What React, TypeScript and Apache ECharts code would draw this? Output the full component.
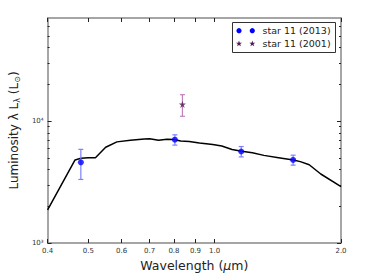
import React, { useEffect, useRef } from "react";
import * as echarts from "echarts";

// Model spectrum (wavelength in µm, luminosity in L_sun)
const modelWavelength = [0.40, 0.465, 0.48, 0.50, 0.52, 0.55, 0.585, 0.63, 0.68, 0.70, 0.735, 0.77, 0.80, 0.83, 0.87, 0.92, 0.99, 1.04, 1.10, 1.16, 1.23, 1.31, 1.42, 1.54, 1.60, 1.68, 1.79, 2.0];
const modelLum = [1870, 4800, 4950, 5000, 5010, 6100, 6750, 6950, 7120, 7150, 6950, 7080, 7050, 6850, 6800, 6620, 6420, 6250, 5850, 5650, 5500, 5230, 5010, 4800, 4650, 4380, 3680, 2900];

// star 11 (2013)
const obs2013Wave = [0.48, 0.804, 1.157, 1.538];
const obs2013Lum = [4590, 7030, 5630, 4800];
const obs2013Err = [1270, 680, 550, 450];

// star 11 (2001)
const obs2001Wave = [0.838];
const obs2001Lum = [13700];
const obs2001Err = [2750];

// axis ticks
const xTickValues = [0.4, 0.5, 0.6, 0.7, 0.8, 0.9, 1.0, 2.0];
const yMajorTicks = [1000, 10000];
const yMinorTicks = [2000, 3000, 4000, 5000, 6000, 7000, 8000, 9000, 20000, 30000, 40000, 50000, 60000];
const xRange = [0.4, 2.0];
const yRange = [1000, 70000];

const L = Math.log10;
const FONT = "DejaVu Sans";
const STAR = "path://M0,-10 L2.35,-3.24 L9.51,-3.09 L3.8,1.24 L5.88,8.09 L0,4 L-5.88,8.09 L-3.8,1.24 L-9.51,-3.09 L-2.35,-3.24 Z";

function starPoints(cx: number, cy: number, r: number) {
  const pts: number[][] = [];
  for (let i = 0; i < 10; i++) {
    const rr = i % 2 === 0 ? r : r * 0.4;
    const a = -Math.PI / 2 + (i * Math.PI) / 5;
    pts.push([cx + rr * Math.cos(a), cy + rr * Math.sin(a)]);
  }
  return pts;
}

function errorSeries(wave: number[], lum: number[], err: number[], color: string) {
  return {
    type: "custom",
    xAxisIndex: 0,
    yAxisIndex: 0,
    z: 3,
    data: wave.map((w, i) => [L(w), L(lum[i]), L(lum[i] + err[i]), L(lum[i] - err[i])]),
    renderItem: (params: any, api: any) => {
      const x = api.value(0);
      const top = api.coord([x, api.value(2)]);
      const bot = api.coord([x, api.value(3)]);
      const cap = 2.5;
      const st = { stroke: color, lineWidth: 1.2 };
      return {
        type: "group",
        children: [
          { type: "line", shape: { x1: top[0], y1: top[1], x2: bot[0], y2: bot[1] }, style: st },
          { type: "line", shape: { x1: top[0] - cap, y1: top[1], x2: top[0] + cap, y2: top[1] }, style: st },
          { type: "line", shape: { x1: bot[0] - cap, y1: bot[1], x2: bot[0] + cap, y2: bot[1] }, style: st },
        ],
      };
    },
  };
}

export default function App() {
  const ref = useRef<HTMLDivElement>(null);
  useEffect(() => {
    if (!ref.current) return;
    const chart = echarts.init(ref.current, null, { renderer: "svg" });
    const spine = { show: true, onZero: false, lineStyle: { color: "#888", width: 1.5 } };
    const noSpine = { show: false, onZero: false };
    const tickLab = { fontFamily: FONT, fontSize: 7, color: "#333" };
    const yMin = L(yRange[0]);
    const yMax = L(yRange[1]);
    const xMin = L(xRange[0]);
    const xMax = L(xRange[1]);
    const sup = (v: number) => {
      const e = Math.round(v);
      return "10" + (e === 3 ? "\u00B3" : e === 4 ? "\u2074" : String(e));
    };
    const baseY = { type: "value", min: yMin, max: yMax, splitLine: { show: false } };
    const baseX = { type: "value", min: xMin, max: xMax, splitLine: { show: false } };
    chart.setOption({
      animation: false,
      grid: { left: 42, right: 38, top: 18, bottom: 30 },
      xAxis: [
        {
          ...baseX,
          position: "bottom",
          axisLine: spine,
          axisTick: { show: true, inside: true, length: 4, customValues: xTickValues.map(L), lineStyle: { color: "#222" } },
          axisLabel: {
            ...tickLab,
            margin: 4,
            customValues: xTickValues.map(L),
            formatter: (v: number) => Math.pow(10, v).toFixed(1),
          },
          name: "Wavelength ({it|μ}m)",
          nameLocation: "middle",
          nameGap: 16,
          nameTextStyle: {
            fontFamily: FONT,
            fontSize: 12.5,
            color: "#222",
            rich: { it: { fontFamily: FONT, fontSize: 12.5, fontStyle: "italic", color: "#222" } },
          },
        },
        {
          ...baseX,
          position: "top",
          axisLine: spine,
          axisTick: { show: true, inside: true, length: 4, customValues: xTickValues.map(L), lineStyle: { color: "#222" } },
          axisLabel: { show: false },
        },
      ],
      yAxis: [
        {
          ...baseY,
          position: "left",
          axisLine: spine,
          axisTick: { show: true, inside: true, length: 4, customValues: yMajorTicks.map(L), lineStyle: { color: "#222" } },
          axisLabel: { ...tickLab, margin: 4, customValues: yMajorTicks.map(L), formatter: sup },
          name: "Luminosity λ L{sub|λ} (L{sub|⊙})",
          nameLocation: "middle",
          nameGap: 21,
          nameRotate: 90,
          nameTextStyle: {
            fontFamily: FONT,
            fontSize: 12,
            color: "#222",
            rich: { sub: { fontFamily: FONT, fontSize: 8, color: "#222", padding: [6, 0, 0, 0] } },
          },
        },
        {
          ...baseY,
          position: "left",
          axisLine: noSpine,
          axisTick: { show: true, inside: true, length: 2, customValues: yMinorTicks.map(L), lineStyle: { color: "#222" } },
          axisLabel: { show: false },
        },
        {
          ...baseY,
          position: "right",
          axisLine: spine,
          axisTick: { show: true, inside: true, length: 4, customValues: yMajorTicks.map(L), lineStyle: { color: "#222" } },
          axisLabel: { show: false },
        },
        {
          ...baseY,
          position: "right",
          axisLine: noSpine,
          axisTick: { show: true, inside: true, length: 2, customValues: yMinorTicks.map(L), lineStyle: { color: "#222" } },
          axisLabel: { show: false },
        },
      ],
      series: [
        {
          type: "line",
          xAxisIndex: 0,
          yAxisIndex: 0,
          data: modelWavelength.map((w, i) => [L(w), L(modelLum[i])]),
          showSymbol: false,
          lineStyle: { color: "#000", width: 1.5 },
          z: 2,
        },
        errorSeries(obs2013Wave, obs2013Lum, obs2013Err, "#7f7fff"),
        errorSeries(obs2001Wave, obs2001Lum, obs2001Err, "#bf7fbf"),
        {
          type: "scatter",
          xAxisIndex: 0,
          yAxisIndex: 0,
          data: obs2013Wave.map((w, i) => [L(w), L(obs2013Lum[i])]),
          symbol: "circle",
          symbolSize: 6,
          itemStyle: { color: "#0000ff" },
          z: 4,
        },
        {
          type: "scatter",
          xAxisIndex: 0,
          yAxisIndex: 0,
          data: obs2001Wave.map((w, i) => [L(w), L(obs2001Lum[i])]),
          symbol: STAR,
          symbolSize: 7,
          itemStyle: { color: "#551a55" },
          z: 4,
        },
      ],
      graphic: [
        {
          type: "rect",
          shape: { x: 232.5, y: 22.5, width: 103, height: 30 },
          style: { fill: "#fff", stroke: "#333", lineWidth: 1 },
          z: 10,
        },
        { type: "circle", shape: { cx: 239, cy: 30.7, r: 2.6 }, style: { fill: "#0000ff" }, z: 11 },
        { type: "circle", shape: { cx: 252.3, cy: 30.7, r: 2.6 }, style: { fill: "#0000ff" }, z: 11 },
        { type: "polygon", shape: { points: starPoints(239, 43.7, 3.2) }, style: { fill: "#551a55" }, z: 11 },
        { type: "polygon", shape: { points: starPoints(252.3, 43.7, 3.2) }, style: { fill: "#551a55" }, z: 11 },
        {
          type: "text",
          x: 262.5,
          y: 30.7,
          style: { text: "star 11 (2013)", fontFamily: FONT, fontSize: 9.5, fill: "#222", verticalAlign: "middle" },
          z: 11,
        },
        {
          type: "text",
          x: 262.5,
          y: 43.7,
          style: { text: "star 11 (2001)", fontFamily: FONT, fontSize: 9.5, fill: "#222", verticalAlign: "middle" },
          z: 11,
        },
      ],
    });
    return () => chart.dispose();
  }, []);
  return <div ref={ref} style={{ width: 379, height: 277, position: "absolute", left: 0, top: 0 }} />;
}
